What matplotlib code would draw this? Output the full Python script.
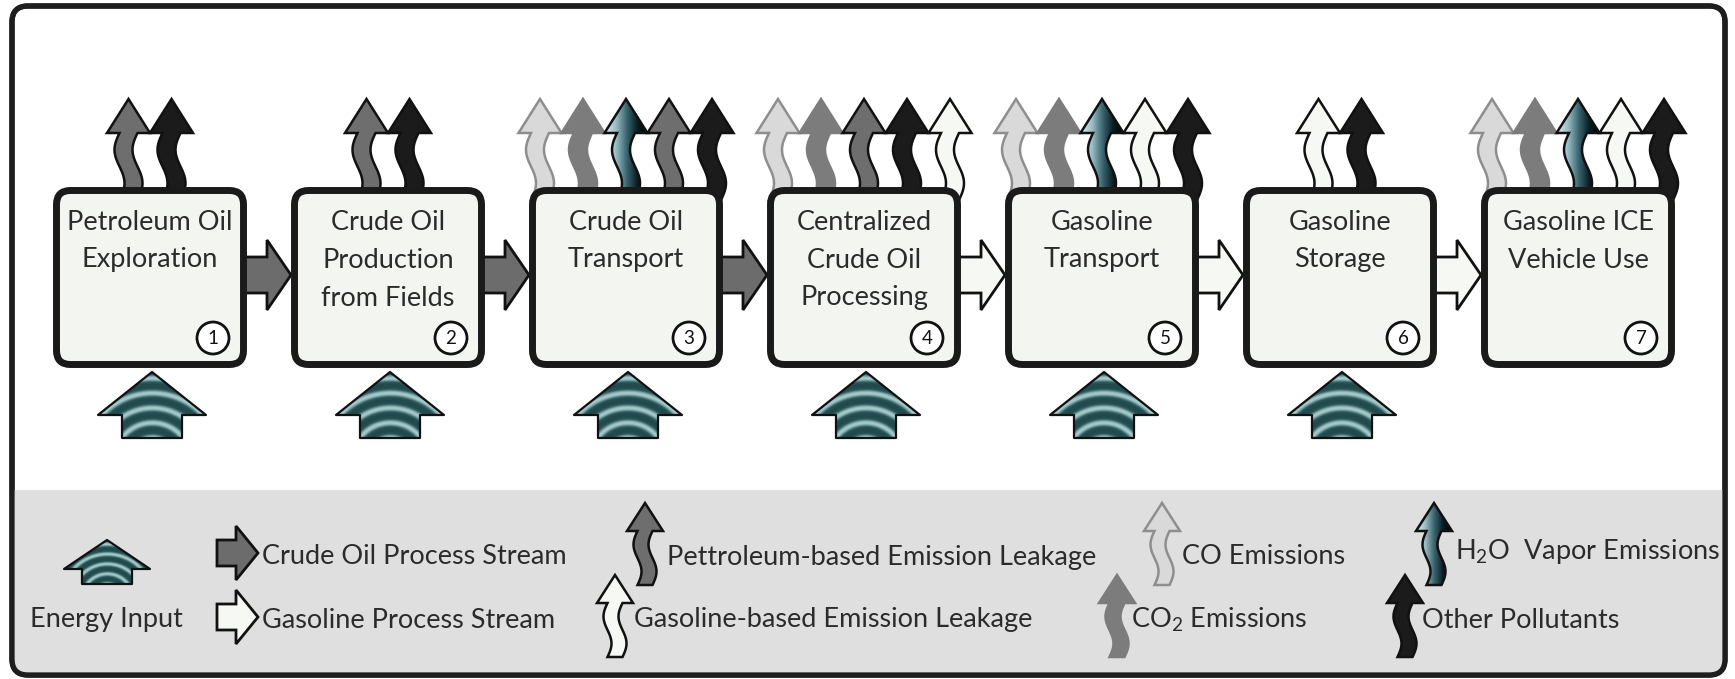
import numpy as np
import matplotlib.pyplot as plt
from matplotlib.patches import Polygon, FancyBboxPatch, Rectangle, Circle
from matplotlib.colors import LinearSegmentedColormap

plt.rcParams['font.family'] = ['Lato', 'DejaVu Sans']
plt.rcParams['mathtext.fontset'] = 'custom'
plt.rcParams['mathtext.rm'] = 'Lato'

# pathway stages
stage_labels = ["Petroleum Oil\nExploration", "Crude Oil\nProduction\nfrom Fields",
                "Crude Oil\nTransport", "Centralized\nCrude Oil\nProcessing",
                "Gasoline\nTransport", "Gasoline\nStorage", "Gasoline ICE\nVehicle Use"]
stage_numbers = ["1", "2", "3", "4", "5", "6", "7"]
stage_emissions = [["petro", "other"],
                   ["petro", "other"],
                   ["co", "co2", "h2o", "petro", "other"],
                   ["co", "co2", "petro", "other", "gas"],
                   ["co", "co2", "h2o", "gas", "other"],
                   ["gas", "other"],
                   ["co", "co2", "h2o", "gas", "other"]]
stream_types = ["crude", "crude", "crude", "gasoline", "gasoline", "gasoline"]
energy_input = [True, True, True, True, True, True, False]

# legend
legend_streams = [("crude", "Crude Oil Process Stream"), ("gasoline", "Gasoline Process Stream")]
legend_emissions = [("petro", "Pettroleum-based Emission Leakage"),
                    ("gas", "Gasoline-based Emission Leakage"),
                    ("co", "CO Emissions"),
                    ("co2", "CO$_\\mathregular{2}$ Emissions"),
                    ("h2o", "H$_\\mathregular{2}$O  Vapor Emissions"),
                    ("other", "Other Pollutants")]

emission_style = {
    "co": dict(fc="#d9d9d9", ec="#8e8e8e"),
    "co2": dict(fc="#7c7c7c", ec="#7c7c7c"),
    "h2o": dict(fc="none", ec="#111111"),
    "petro": dict(fc="#6e6e6e", ec="#111111"),
    "other": dict(fc="#1b1b1b", ec="#111111"),
    "gas": dict(fc="#f6f8f4", ec="#111111"),
}
stream_color = {"crude": "#6c6c6c", "gasoline": "#f6f8f4"}
txt_color = "#2b2b2b"
fs = 19.5

h2o_cmap = LinearSegmentedColormap.from_list("h2o", ["#dce9ec", "#9dbec5", "#3b6671", "#0b1f24", "#000000"])
energy_cmap = LinearSegmentedColormap.from_list("en", ["#224a4d", "#2f5d60", "#6a9799", "#a9caca"])

W, H = 1735, 679
fig = plt.figure(figsize=(W / 100, H / 100), dpi=100)
ax = fig.add_axes([0, 0, 1, 1])


def wavy_arrow(cx, tip, bottom, head_h, head_hw, shaft_hw, amp):
    base = tip + head_h
    ys = np.linspace(bottom, base, 40)
    t = (bottom - ys) / (bottom - base)
    xc = cx + amp * np.sin(2 * np.pi * t)
    left = list(zip(xc - shaft_hw, ys))
    right = list(zip(xc + shaft_hw, ys))[::-1]
    return left + [(cx - head_hw, base), (cx, tip), (cx + head_hw, base)] + right


def draw_emission(kind, cx, tip, bottom, head_h, head_hw, shaft_hw, amp, z):
    st = emission_style[kind]
    pts = wavy_arrow(cx, tip, bottom, head_h, head_hw, shaft_hw, amp)
    poly = Polygon(pts, closed=True, fc=st["fc"], ec=st["ec"], lw=1.8, zorder=z + 0.1,
                   joinstyle="miter")
    ax.add_patch(poly)
    if kind == "h2o":
        grad = np.tile(np.linspace(0, 1, 60), (10, 1))
        im = ax.imshow(grad, cmap=h2o_cmap, extent=(cx - head_hw, cx + head_hw, bottom, tip),
                       origin="upper", aspect="auto", zorder=z, interpolation="bilinear")
        im.set_clip_path(poly)


def draw_energy(cx, tip, base, bottom, head_hw, stem_hw, z):
    pts = [(cx, tip), (cx + head_hw, base), (cx + stem_hw, base), (cx + stem_hw, bottom),
           (cx - stem_hw, bottom), (cx - stem_hw, base), (cx - head_hw, base)]
    poly = Polygon(pts, closed=True, fc="none", ec="#111111", lw=1.6, zorder=z + 0.1,
                   joinstyle="round")
    ax.add_patch(poly)
    h = bottom - tip
    xs = np.linspace(cx - head_hw, cx + head_hw, 160)
    ys = np.linspace(tip, bottom, 100)
    X, Y = np.meshgrid(xs, ys)
    r = np.hypot(X - cx, Y - (bottom + 0.35 * h))
    period = h / 4.4
    val = (0.5 + 0.5 * np.cos(2 * np.pi * (r - 0.35 * h) / period)) ** 1.6
    im = ax.imshow(val, cmap=energy_cmap, extent=(cx - head_hw, cx + head_hw, bottom, tip),
                   origin="upper", aspect="auto", zorder=z, interpolation="bilinear")
    im.set_clip_path(poly)


def draw_stream(kind, x0, xh, xt, cy, tail_hh, head_hh, z):
    pts = [(x0, cy - tail_hh), (xh, cy - tail_hh), (xh, cy - head_hh), (xt, cy),
           (xh, cy + head_hh), (xh, cy + tail_hh), (x0, cy + tail_hh)]
    ax.add_patch(Polygon(pts, closed=True, fc=stream_color[kind], ec="#111111", lw=2.0,
                         zorder=z, joinstyle="miter"))


# outer frame and legend band
frame = FancyBboxPatch((12, 6), 1713, 669, boxstyle="round,pad=0,rounding_size=16",
                       fc="white", ec="#1e1e1e", lw=3.8, zorder=0)
ax.add_patch(frame)
band = Rectangle((12, 490), 1713, 190, fc="#dfdfdf", ec="none", zorder=0.5)
ax.add_patch(band)
band.set_clip_path(frame)
ax.add_patch(FancyBboxPatch((12, 6), 1713, 669, boxstyle="round,pad=0,rounding_size=16",
                            fc="none", ec="#1e1e1e", lw=3.8, zorder=20))

# stages
pitch = 238
for i, label in enumerate(stage_labels):
    cx = 150 + pitch * i
    n = len(stage_emissions[i])
    for k, kind in enumerate(stage_emissions[i]):
        x = cx + (k - (n - 1) / 2) * 43
        draw_emission(kind, x, 99, 200, 34, 21.5, 9, 5, 2 + 0.2 * k)
    ax.add_patch(FancyBboxPatch((cx - 93.5, 190.5), 187, 174,
                                boxstyle="round,pad=0,rounding_size=14",
                                fc="#f3f5f1", ec="#1a1a1a", lw=5.0, zorder=5))
    for j, line in enumerate(label.split("\n")):
        ax.text(cx, 222 + 38 * j, line, ha="center", va="center", fontsize=fs,
                color=txt_color, zorder=6)
    ax.add_patch(Circle((cx + 63, 338), 16, fc="white", ec="#111111", lw=2.0, zorder=6))
    ax.text(cx + 63, 339, stage_numbers[i], ha="center", va="center", fontsize=13.5,
            color="#111111", zorder=7)
    if energy_input[i]:
        draw_energy(cx + 2, 372, 415, 438, 54, 30, 3)
    if i < len(stream_types):
        draw_stream(stream_types[i], cx + 88, cx + 117, cx + 141, 275, 18, 35, 3)

# legend
draw_energy(107, 540, 569, 584, 43, 25, 8)
ax.text(106, 620, "Energy Input", ha="center", va="center", fontsize=fs, color=txt_color, zorder=9)

for j, (kind, label) in enumerate(legend_streams):
    cy = 553 + 64 * j
    draw_stream(kind, 217, 236, 258, cy, 13, 27, 8)
    ax.text(262, cy + 4, label, ha="left", va="center", fontsize=fs, color=txt_color, zorder=9)

leg_icon_x = [645, 615, 1162, 1117, 1434, 1405]
leg_text_x = [667, 634, 1182, 1131, 1455, 1422]
for j, (kind, label) in enumerate(legend_emissions):
    row = j % 2
    tip = 503 if row == 0 else 575
    draw_emission(kind, leg_icon_x[j], tip, tip + 82, 28, 18, 7.5, 4, 8)
    ty = (557 if row == 0 else 620) - (6 if kind == "h2o" else 0)
    ax.text(leg_text_x[j], ty, label, ha="left", va="center", fontsize=fs,
            color=txt_color, zorder=9)

ax.set_xlim(0, W)
ax.set_ylim(H, 0)
ax.axis("off")
fig.savefig("out.png", dpi=100, facecolor="white")
